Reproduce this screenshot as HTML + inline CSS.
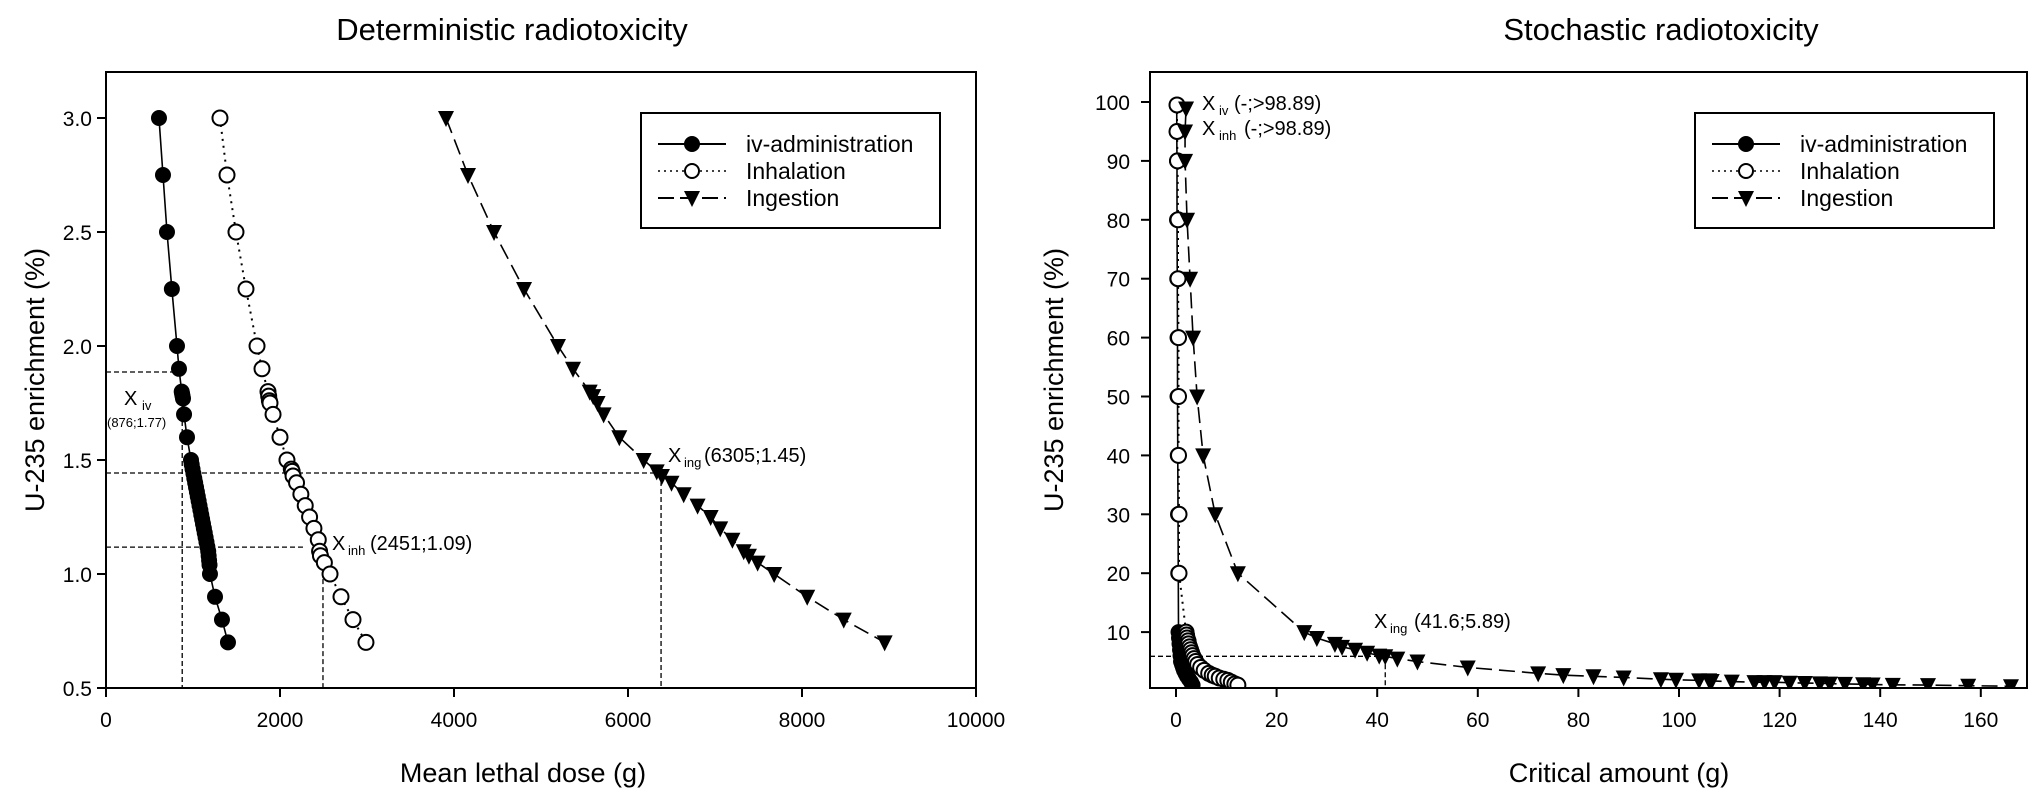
<!DOCTYPE html>
<html><head><meta charset="utf-8">
<style>
body{margin:0;background:#fff;}
svg{display:block;font-family:"Liberation Sans",Arial,sans-serif;}
</style></head>
<body>
<svg id="chart" width="2031" height="795" viewBox="0 0 2031 795" xmlns="http://www.w3.org/2000/svg"></svg>
<script>
// ---------- Left panel data (Deterministic) ----------
const detIvX = [609,655,701,757,816,839,870,875,880,885,897,931,977,985,995,1005,1015,1025,1035,1045,1055,1065,1075,1085,1095,1105,1115,1125,1135,1145,1155,1165,1175,1180,1185,1190,1195,1253,1333,1402];
const detIvY = [3.0,2.75,2.5,2.25,2.0,1.9,1.8,1.79,1.78,1.77,1.7,1.6,1.5,1.48,1.46,1.44,1.42,1.4,1.38,1.36,1.34,1.32,1.3,1.28,1.26,1.24,1.22,1.2,1.18,1.16,1.14,1.12,1.1,1.08,1.06,1.04,1.0,0.9,0.8,0.7];
const detInhX = [1310,1391,1494,1609,1736,1793,1862,1870,1878,1885,1920,2000,2080,2130,2140,2150,2190,2240,2290,2340,2390,2440,2455,2465,2510,2575,2701,2839,2988];
const detInhY = [3.0,2.75,2.5,2.25,2.0,1.9,1.8,1.78,1.76,1.75,1.7,1.6,1.5,1.46,1.45,1.43,1.4,1.35,1.3,1.25,1.2,1.15,1.1,1.08,1.05,1.0,0.9,0.8,0.7];
const detIngX = [3908,4161,4460,4805,5195,5368,5560,5600,5650,5720,5900,6180,6330,6390,6500,6640,6800,6950,7060,7200,7330,7390,7490,7680,8060,8480,8950];
const detIngY = [3.0,2.75,2.5,2.25,2.0,1.9,1.8,1.78,1.75,1.7,1.6,1.5,1.45,1.43,1.4,1.35,1.3,1.25,1.2,1.15,1.1,1.08,1.05,1.0,0.9,0.8,0.7];
const detXTicks = [0,2000,4000,6000,8000,10000];
const detYTicks = [0.5,1.0,1.5,2.0,2.5,3.0];
const detRefX = [876,2494,6380];
const detRefY = [1.886,1.118,1.443];

// ---------- Right panel data (Stochastic) ----------
const stoIvX = [0.15,0.15,0.2,0.2,0.25,0.3,0.3,0.35,0.4,0.45,0.5,0.6,0.7,0.8,0.9,1.0,1.2,1.4,1.6,1.9,2.2,2.6,3.0,3.3];
const stoIvY = [99.5,95,90,80,70,60,50,40,30,20,10,9,8,7,6,5,4.5,4,3.5,3,2.5,2,1.5,1];
const stoInhX = [0.2,0.2,0.3,0.4,0.4,0.5,0.5,0.5,0.6,0.6,2.0,2.1,2.2,2.4,2.5,2.7,2.9,3.1,3.3,3.6,3.9,4.3,4.9,5.6,6.5,7.2,7.8,8.6,9.5,10.3,11.0,11.7,12.3];
const stoInhY = [99.5,95,90,80,70,60,50,40,30,20,10,9.5,9,8.5,8,7.5,7,6.5,6,5.5,5,4.5,4,3.5,3,2.7,2.5,2.2,2,1.8,1.5,1.2,1];
const stoIngX = [2.0,1.8,1.8,2.2,2.8,3.4,4.2,5.4,7.8,12.3,25.5,28,31.6,33,35.6,38,40.4,41.6,44,48,58,72,77,83,89,96.4,99.4,104,106,106.5,110.5,115,117,119,122,125,128,130,133,136.6,138.5,142.5,149.5,157.5,166];
const stoIngY = [98.89,95,90,80,70,60,50,40,30,20,10,9,8,7.5,7,6.5,6,5.89,5.5,5,4,3,2.7,2.5,2.3,2.0,1.9,1.8,1.8,1.7,1.6,1.5,1.5,1.5,1.4,1.35,1.3,1.25,1.2,1.15,1.1,1.05,1.0,0.9,0.8];
const stoXTicks = [0,20,40,60,80,100,120,140,160];
const stoYTicks = [10,20,30,40,50,60,70,80,90,100];
const stoRefX = [41.6];
const stoRefY = [5.89];

const NS = "http://www.w3.org/2000/svg";
const svg = document.getElementById('chart');
function mk(tag, attrs, parent){
  const e = document.createElementNS(NS, tag);
  for (const k in attrs) e.setAttribute(k, attrs[k]);
  (parent||svg).appendChild(e);
  return e;
}

const dX = v => 106 + v * 0.087;
const dY = v => 688 - (v - 0.5) * 228;
const sX = v => 1176 + v * 5.03;
const sY = v => 691 - v * 5.89;

function frame(name, x0, y0, x1, y1){
  const r = mk('rect', {x:x0, y:y0, width:x1-x0, height:y1-y0, fill:'none', stroke:'#000', 'stroke-width':2});
  
  
}
function text(str, x, y, size, anchor, name, extra){
  const t = mk('text', Object.assign({x:x, y:y, 'font-size':size, 'text-anchor':anchor||'middle', fill:'#000'}, extra||{}));
  t.textContent = str;
  
  
  return t;
}
function marker(g, type, x, y){
  let m;
  if (type === 'filled') m = mk('circle', {cx:x, cy:y, r:7.5, fill:'#000', stroke:'#000', 'stroke-width':1}, g);
  else if (type === 'open') m = mk('circle', {cx:x, cy:y, r:7.5, fill:'#fff', stroke:'#000', 'stroke-width':2}, g);
  else m = mk('polygon', {points:`${x-8},${y-7} ${x+8},${y-7} ${x},${y+9}`, fill:'#000'}, g);
  
  
}
function series(name, xs, ys, fx, fy, type, dash){
  const g = mk('g', {});
  
  
  const pts = xs.map((v,i)=>fx(v)+','+fy(ys[i])).join(' ');
  const attrs = {points:pts, fill:'none', stroke:'#000', 'stroke-width':type==='open'?2:1.6};
  if (dash) attrs['stroke-dasharray'] = dash;
  const l = mk('polyline', attrs, g);
  
  
  xs.forEach((v,i)=>marker(g, type, fx(v), fy(ys[i])));
}
function legend(name, x0, y0){
  const g = mk('g', {});
  
  
  mk('rect', {x:x0, y:y0, width:299, height:115, fill:'#fff', stroke:'#000', 'stroke-width':2}, g);
  const rows = [['iv-administration','filled',null],['Inhalation','open','2,4'],['Ingestion','tri','16,6']];
  rows.forEach((r,i)=>{
    const y = y0 + 31 + i*27;
    const a = {x1:x0+17, x2:x0+85, y1:y, y2:y, stroke:'#000', 'stroke-width':r[1]==='open'?1.5:2};
    if (r[2]) a['stroke-dasharray'] = r[2];
    const l = mk('line', a, g);
    
    
    if (r[1]==='tri') { const p = mk('polygon', {points:`${x0+43},${y-7} ${x0+59},${y-7} ${x0+51},${y+9}`, fill:'#000'}, g);
        }
    else { const c = mk('circle', {cx:x0+51, cy:y, r:7, fill:r[1]==='filled'?'#000':'#fff', stroke:'#000', 'stroke-width':2}, g);
        }
    const t = mk('text', {x:x0+105, y:y+8, 'font-size':23, fill:'#000'}, g);
    t.textContent = r[0];
    
    
  });
}
function dashed(x1,y1,x2,y2){
  const l = mk('line', {x1:x1,y1:y1,x2:x2,y2:y2,stroke:'#000','stroke-width':1.3,'stroke-dasharray':'5,3'});
  
  
}

// ===== Left panel =====
text('Deterministic radiotoxicity', 512, 40, 31, 'middle', 'left-chart-title');
dashed(106, dY(detRefY[0]), dX(detRefX[0])-8, dY(detRefY[0]));
dashed(dX(detRefX[0]), dY(detRefY[0])+25, dX(detRefX[0]), 688);
dashed(106, dY(detRefY[1]), dX(detRefX[1])-20, dY(detRefY[1]));
dashed(dX(detRefX[1]), dY(detRefY[1]), dX(detRefX[1]), 688);
dashed(106, dY(detRefY[2]), dX(detRefX[2]), dY(detRefY[2]));
dashed(dX(detRefX[2]), dY(detRefY[2]), dX(detRefX[2]), 688);
series('iv-series', detIvX, detIvY, dX, dY, 'filled', null);
series('inhalation-series', detInhX, detInhY, dX, dY, 'open', '2,5');
series('ingestion-series', detIngX, detIngY, dX, dY, 'tri', '16,7');
frame('left-plot-frame', 106, 72, 976, 688);
detXTicks.forEach(v=>{
  const l = mk('line',{x1:dX(v),x2:dX(v),y1:688,y2:697,stroke:'#000','stroke-width':2});
   
  text(String(v), dX(v), 727, 21, 'middle', 'x-tick-label');
});
detYTicks.forEach(v=>{
  const l = mk('line',{x1:97,x2:106,y1:dY(v),y2:dY(v),stroke:'#000','stroke-width':2});
   
  text(v.toFixed(1), 92, dY(v)+8, 21, 'end', 'y-tick-label');
});
text('Mean lethal dose (g)', 523, 782, 27, 'middle', 'x-axis-title');
text('U-235 enrichment (%)', 0, 0, 27, 'middle', 'y-axis-title', {transform:'translate(44,380) rotate(-90)'});
text('X', 124, 405, 20, 'start', 'annotation-x-iv');
text('iv', 142, 410, 13, 'start', 'annotation-sub');
text('(876;1.77)', 107, 427, 13, 'start', 'annotation-value');
text('X', 332, 550, 20, 'start', 'annotation-x-inh');
text('inh', 348, 555, 13, 'start', 'annotation-sub');
text('(2451;1.09)', 370, 550, 20, 'start', 'annotation-value');
text('X', 668, 462, 20, 'start', 'annotation-x-ing');
text('ing', 684, 467, 13, 'start', 'annotation-sub');
text('(6305;1.45)', 704, 462, 20, 'start', 'annotation-value');
legend('left-legend', 641, 113);

// ===== Right panel =====
text('Stochastic radiotoxicity', 1661, 40, 31, 'middle', 'right-chart-title');
dashed(1150, sY(stoRefY[0]), sX(stoRefX[0]), sY(stoRefY[0]));
dashed(sX(stoRefX[0]), sY(stoRefY[0]), sX(stoRefX[0]), 688);
series('iv-series', stoIvX, stoIvY, sX, sY, 'filled', null);
series('inhalation-series', stoInhX, stoInhY, sX, sY, 'open', '2,5');
series('ingestion-series', stoIngX, stoIngY, sX, sY, 'tri', '16,7');
const mask = mk('rect',{x:1140,y:689,width:891,height:20,fill:'#fff'});
 
frame('right-plot-frame', 1150, 72, 2027, 688);
stoXTicks.forEach(v=>{
  const l = mk('line',{x1:sX(v),x2:sX(v),y1:688,y2:697,stroke:'#000','stroke-width':2});
   
  text(String(v), sX(v), 727, 21, 'middle', 'x-tick-label');
});
stoYTicks.forEach(v=>{
  const l = mk('line',{x1:1141,x2:1150,y1:sY(v),y2:sY(v),stroke:'#000','stroke-width':2});
   
  text(String(v), 1130, sY(v)+8, 21, 'end', 'y-tick-label');
});
text('Critical amount (g)', 1619, 782, 27, 'middle', 'x-axis-title');
text('U-235 enrichment (%)', 0, 0, 27, 'middle', 'y-axis-title', {transform:'translate(1063,380) rotate(-90)'});
text('X', 1202, 110, 20, 'start', 'annotation-x-iv');
text('iv', 1219, 115, 13, 'start', 'annotation-sub');
text('(-;>98.89)', 1234, 110, 20, 'start', 'annotation-value');
text('X', 1202, 135, 20, 'start', 'annotation-x-inh');
text('inh', 1219, 140, 13, 'start', 'annotation-sub');
text('(-;>98.89)', 1244, 135, 20, 'start', 'annotation-value');
text('X', 1374, 628, 20, 'start', 'annotation-x-ing');
text('ing', 1390, 633, 13, 'start', 'annotation-sub');
text('(41.6;5.89)', 1414, 628, 20, 'start', 'annotation-value');
legend('right-legend', 1695, 113);
</script>
</body></html>
